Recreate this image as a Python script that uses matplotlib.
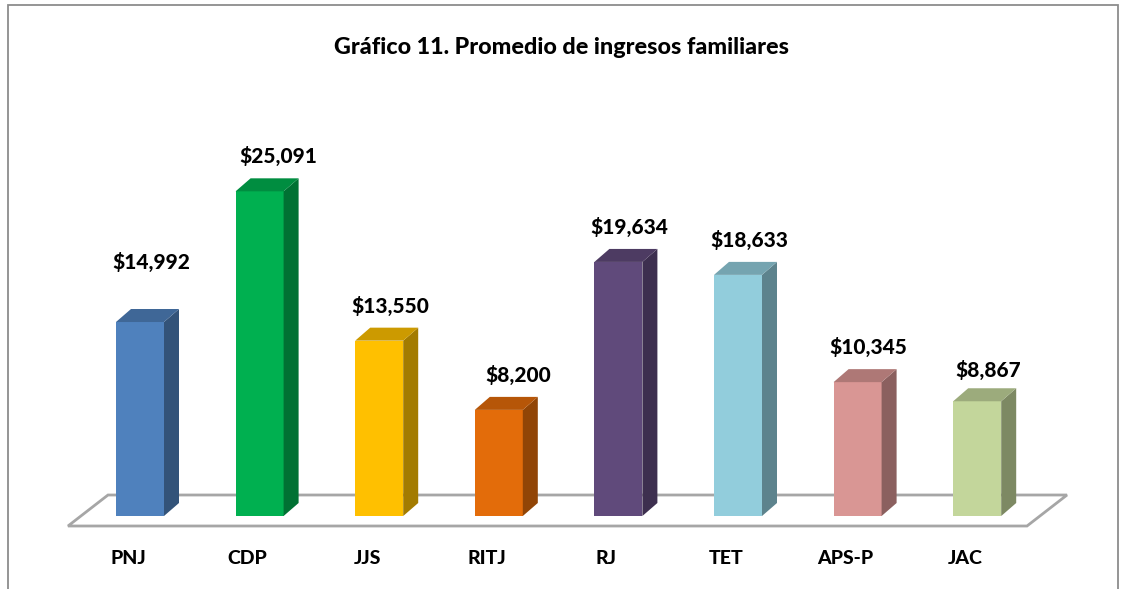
import matplotlib
matplotlib.use("Agg")
import matplotlib.pyplot as plt
from matplotlib.patches import Polygon, Rectangle
import matplotlib.colors as mcolors
import numpy as np

categories = ["PNJ", "CDP", "JJS", "RITJ", "RJ", "TET", "APS-P", "JAC"]
values = [14992, 25091, 13550, 8200, 19634, 18633, 10345, 8867]
value_labels = ["$14,992", "$25,091", "$13,550", "$8,200", "$19,634", "$18,633", "$10,345", "$8,867"]
title = "Gráfico 11. Promedio de ingresos familiares"

front_colors = ["#4F81BD", "#00B050", "#FFC000", "#E36C0A", "#604A7B", "#92CDDC", "#D99694", "#C3D69B"]

W, H, DPI = 1122, 589, 100
fig = plt.figure(figsize=(W / DPI, H / DPI), dpi=DPI)
ax = fig.add_axes([0, 0, 1, 1])

px_per_cat = 119.6
px_per_unit = 0.01294
x0_px = 140
zero_px_from_top = 516
ax.set_xlim(-x0_px / px_per_cat, (W - x0_px) / px_per_cat)
ax.set_ylim(-(H - zero_px_from_top) / px_per_unit, zero_px_from_top / px_per_unit)
ax.axis("off")

def pxx(p):
    return p / px_per_cat

def pxy(p):
    return p / px_per_unit

x = np.arange(len(categories))
w = pxx(48)
dx = pxx(15)
dy = pxy(13)

floor = Polygon([(pxx(68 - x0_px), pxy(-10)), (pxx(1027 - x0_px), pxy(-10)),
                 (pxx(1067 - x0_px), pxy(21)), (pxx(108 - x0_px), pxy(21))],
                closed=True, facecolor="white", edgecolor="#A6A6A6", lw=2.0, zorder=1)
ax.add_patch(floor)

def shade(c, f):
    r, g, b = mcolors.to_rgb(c)
    return (r * f, g * f, b * f)

ax.bar(x, values, width=w, color=front_colors, zorder=3, linewidth=0)
for xi, v, c in zip(x, values, front_colors):
    side = Polygon([(xi + w / 2, 0), (xi + w / 2 + dx, dy), (xi + w / 2 + dx, v + dy), (xi + w / 2, v)],
                   closed=True, facecolor=shade(c, 0.64), edgecolor="none", zorder=3)
    top = Polygon([(xi - w / 2, v), (xi - w / 2 + dx, v + dy), (xi + w / 2 + dx, v + dy), (xi + w / 2, v)],
                  closed=True, facecolor=shade(c, 0.8), edgecolor="none", zorder=3)
    ax.add_patch(side)
    ax.add_patch(top)

font = "Lato"
weight = 900
label_nudge_px = [(0, 25), (8, 0), (0, 0), (8, 0), (0, 0), (0, 0), (0, 0), (0, -4)]
for xi, v, lab, (nx, ny) in zip(x, values, value_labels, label_nudge_px):
    ax.annotate(lab, (xi, v), xytext=(11 + nx, 35 + ny), textcoords="offset pixels",
                ha="center", va="center", fontsize=15, fontweight=weight, family=font,
                color="black", zorder=5)

for xi, cat in zip(x, categories):
    ax.annotate(cat, (xi, 0), xytext=(-12, -42), textcoords="offset pixels",
                ha="center", va="center", fontsize=14, fontweight=weight, family=font, color="black")

fig.text(562 / W, 1 - 48 / H, title, ha="center", va="center", fontsize=16.8,
         fontweight=weight, family=font, color="black")

fig.patches.append(Rectangle((8 / W, -10 / H), (1118 - 8) / W, (H - 5 + 10) / H,
                             transform=fig.transFigure, fill=False, edgecolor="#8C8C8C", lw=1.3))

fig.savefig("out.png", dpi=DPI)
